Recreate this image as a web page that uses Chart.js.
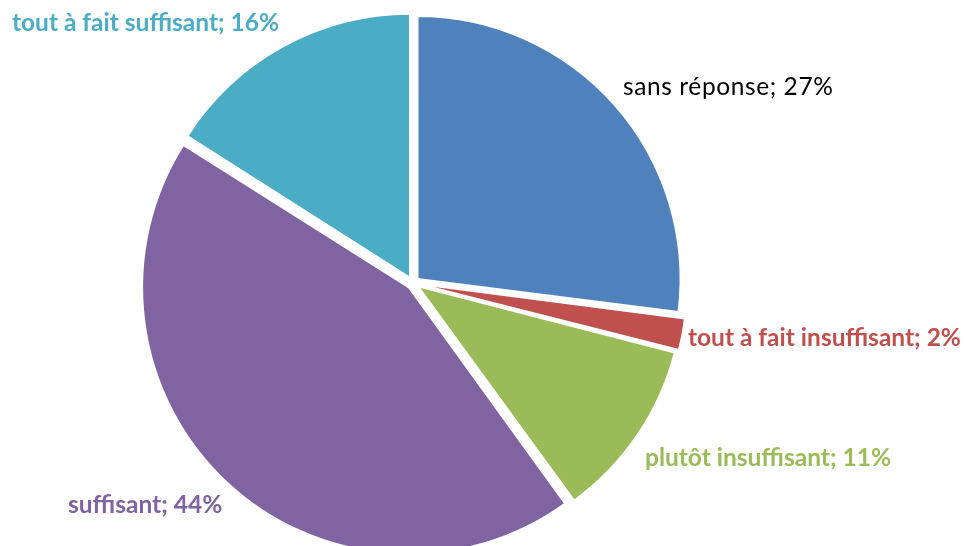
<!DOCTYPE html>
<html>
<head>
<meta charset="utf-8">
<script src="https://cdn.jsdelivr.net/npm/chart.js"></script>
<style>
  html, body { margin: 0; padding: 0; background: #fff; overflow: hidden; }
  #wrap { width: 964px; height: 570px; position: relative; }
</style>
</head>
<body>
<div id="wrap"><canvas id="chart"></canvas></div>
<script>
// data
const categories = ['sans réponse', 'tout à fait insuffisant', 'plutôt insuffisant', 'suffisant', 'tout à fait suffisant']
const values = [27, 2, 11, 44, 16]
const colors = ['#4F81BD', '#C0504D', '#9BBB59', '#8064A2', '#4BACC6']

// where each label sits (left edge, middle) and how it looks
const labelStyle = [
    { x: 623, y: 87, bold: false, color: '#000000', spacing: '0.6px' },
    { x: 688, y: 338, bold: true },
    { x: 645, y: 458, bold: true },
    { x: 68, y: 505, bold: true },
    { x: 12, y: 23, bold: true }
]

const pieLabels = {
    id: 'pieLabels',
    afterDraw(chart) {
        const ctx = chart.ctx
        const ds = chart.data.datasets[0]
        ctx.save()
        ctx.textAlign = 'left'
        ctx.textBaseline = 'middle'
        chart.data.labels.forEach(function(lab, i){
            const st = labelStyle[i]
            ctx.font = (st.bold ? 'bold ' : '') + '24.5px Lato'
            ctx.letterSpacing = st.spacing || '0px'
            ctx.fillStyle = st.color || ds.backgroundColor[i]
            ctx.fillText(lab + '; ' + ds.data[i] + '%', st.x, st.y)
        })
        ctx.restore()
    }
}

document.addEventListener('DOMContentLoaded', function() {
    const ctx = document.getElementById('chart').getContext('2d')
    new Chart(ctx, {
        type: 'pie',
        data: {
            labels: categories,
            datasets: [{
                data: values,
                backgroundColor: colors,
                borderColor: '#ffffff',
                borderWidth: 2,
                offset: 24
            }]
        },
        options: {
            responsive: true,
            maintainAspectRatio: false,
            animation: false,
            layout: {
                padding: { top: 7, bottom: 11, left: 103, right: 241 }
            },
            plugins: {
                legend: { display: false },
                tooltip: { enabled: false }
            }
        },
        plugins: [pieLabels]
    })
})
</script>
</body>
</html>
